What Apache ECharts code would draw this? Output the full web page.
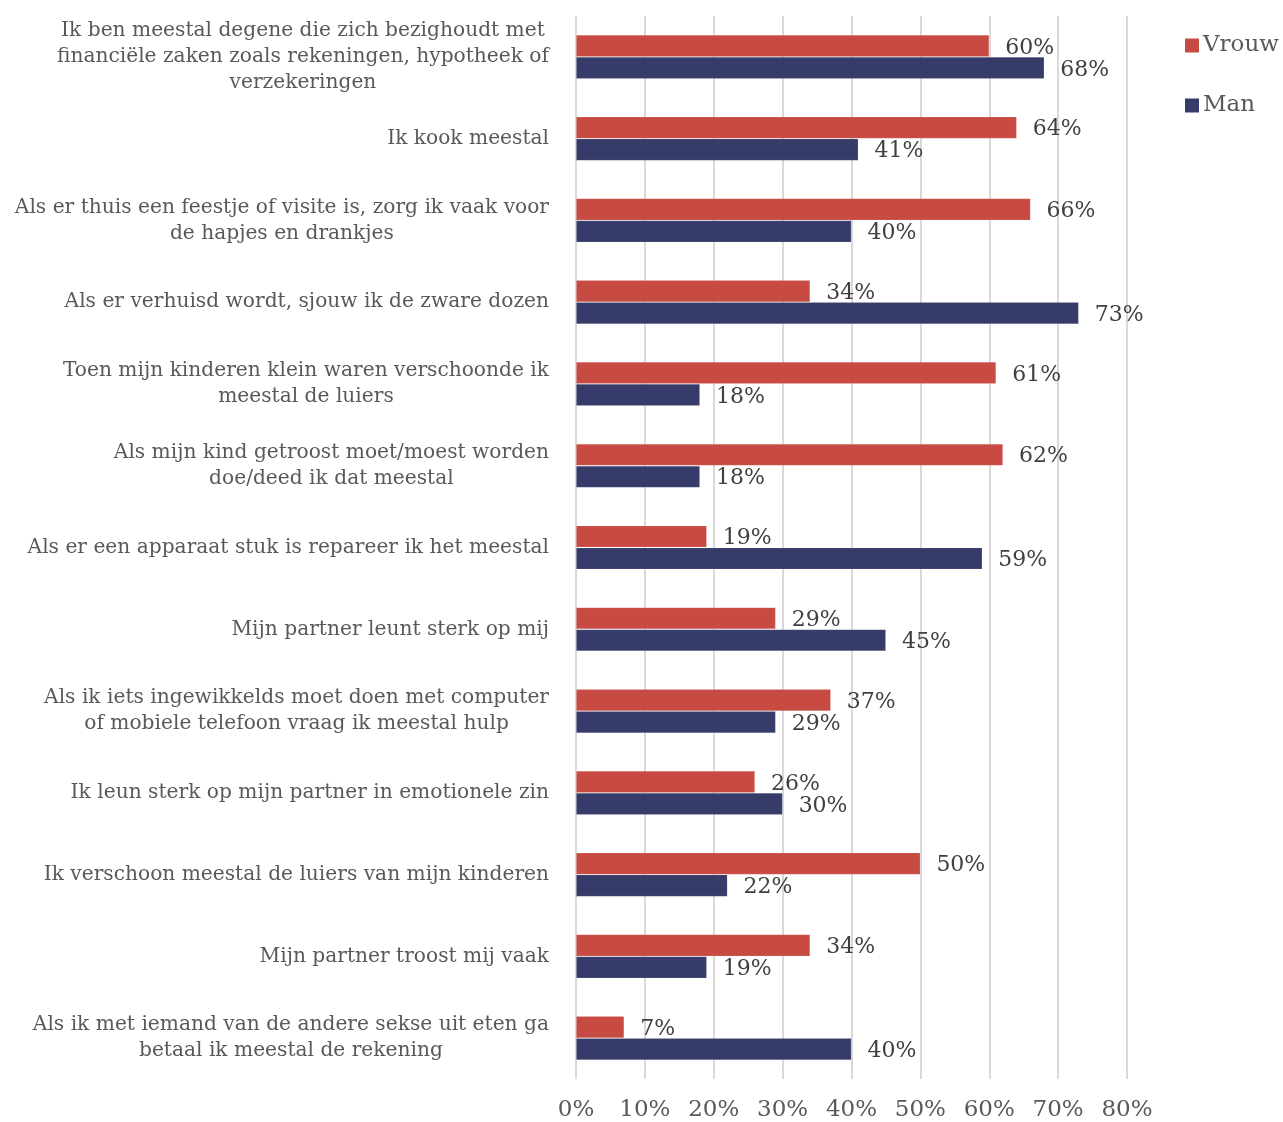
<!DOCTYPE html>
<html><head><meta charset="utf-8">
<script src="https://cdn.jsdelivr.net/npm/echarts@6/dist/echarts.min.js"></script>
<style>html,body{margin:0;padding:0;background:#fff}#c{width:1283px;height:1122px}</style>
</head><body><div id="c"></div>
<script>
const categories = [
  "Ik ben meestal degene die zich bezighoudt met\nfinanciële zaken zoals rekeningen, hypotheek of\nverzekeringen",
  "Ik kook meestal",
  "Als er thuis een feestje of visite is, zorg ik vaak voor\nde hapjes en drankjes",
  "Als er verhuisd wordt, sjouw ik de zware dozen",
  "Toen mijn kinderen klein waren verschoonde ik\nmeestal de luiers",
  "Als mijn kind getroost moet/moest worden\ndoe/deed ik dat meestal",
  "Als er een apparaat stuk is repareer ik het meestal",
  "Mijn partner leunt sterk op mij",
  "Als ik iets ingewikkelds moet doen met computer\nof mobiele telefoon vraag ik meestal hulp",
  "Ik leun sterk op mijn partner in emotionele zin",
  "Ik verschoon meestal de luiers van mijn kinderen",
  "Mijn partner troost mij vaak",
  "Als ik met iemand van de andere sekse uit eten ga\nbetaal ik meestal de rekening"
];
const vrouw = [60, 64, 66, 34, 61, 62, 19, 29, 37, 26, 50, 34, 7];
const man   = [68, 41, 40, 73, 18, 18, 59, 45, 29, 30, 22, 19, 40];
const seriesNames = ["Vrouw", "Man"];
const tickValues = [0, 10, 20, 30, 40, 50, 60, 70, 80];

const FONT = "DejaVu Serif";
const chart = echarts.init(document.getElementById('c'), null, {renderer: 'canvas'});
const labelCfg = {
  show: true, position: 'right', distance: 16, offset: [0, 2],
  formatter: p => p.value + '%',
  fontFamily: FONT, fontSize: 22, color: '#404040'
};
chart.setOption({
  animation: false,
  textStyle: {fontFamily: FONT},
  grid: {left: 576, right: 156, top: 16, bottom: 41, containLabel: false},
  legend: {
    orient: 'vertical', left: 1180, top: 29, itemGap: 37,
    itemWidth: 14, itemHeight: 14, icon: 'rect', itemStyle: {borderWidth: 0},
    textStyle: {fontFamily: FONT, fontSize: 23, color: '#595959', padding: [0,0,0,-1]},
    data: seriesNames
  },
  xAxis: {
    type: 'value', min: tickValues[0], max: tickValues[tickValues.length-1], interval: 10,
    axisLine: {show: false}, axisTick: {show: false},
    splitLine: {lineStyle: {color: '#d9d9d9', width: 2}},
    axisLabel: {formatter: v => v + '%', fontFamily: FONT, fontSize: 23, color: '#595959', margin: 20}
  },
  yAxis: {
    type: 'category', inverse: true, data: categories,
    axisLine: {show: false}, axisTick: {show: false},
    axisLabel: {
      align: 'right', margin: 27,
      formatter: v => v.split('\n').map(l => '{c|' + l + '}').join('\n'),
      rich: {c: {align: 'center', fontFamily: FONT, fontSize: 20.2, color: '#595959', lineHeight: 26}}
    }
  },
  series: [
    {name: seriesNames[0], type: 'bar', data: vrouw, barWidth: 22, barGap: '0%',
     itemStyle: {color: '#C84B43', borderColor: 'rgba(255,255,255,0.15)', borderWidth: 0.8},
     label: labelCfg},
    {name: seriesNames[1], type: 'bar', data: man, barWidth: 22,
     itemStyle: {color: '#363B69', borderColor: 'rgba(255,255,255,0.15)', borderWidth: 0.8},
     label: labelCfg}
  ]
});
</script></body></html>
